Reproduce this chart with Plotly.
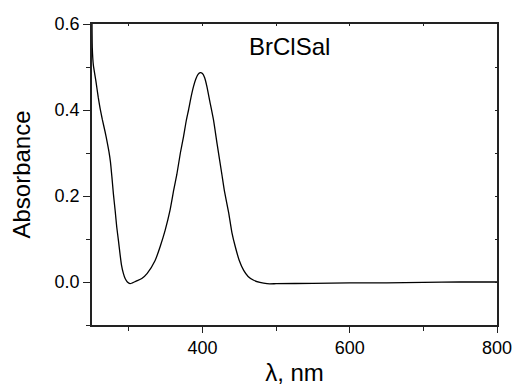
import plotly.graph_objects as go

# Spectrum
wavelength_nm = [250, 250.4, 251.8, 255.4, 258.6, 261, 264, 267.7, 271, 273, 275, 277, 279,
                 281.5, 283.6, 286, 288, 290, 292.6, 295, 298, 301.7, 305, 310, 317.6,
                 325, 335.7, 342.5, 349.3, 356, 361, 365.2, 370, 374.3, 378, 381.1, 384.5,
                 387.9, 391, 394, 397, 400, 403, 406, 410, 415, 420, 426.4, 430, 435.5,
                 440, 444.6, 450, 456, 462, 469.6, 478, 487.7, 500, 550, 600, 650, 700,
                 750, 800]
absorbance = [0.60, 0.544, 0.505, 0.466, 0.428, 0.404, 0.378, 0.35, 0.322, 0.303, 0.28,
              0.245, 0.206, 0.165, 0.128, 0.095, 0.066, 0.04, 0.02, 0.008, 0.0, -0.004,
              -0.002, 0.002, 0.008, 0.02, 0.05, 0.082, 0.12, 0.167, 0.214, 0.25, 0.30,
              0.338, 0.375, 0.40, 0.43, 0.455, 0.472, 0.483, 0.487, 0.485, 0.475, 0.455,
              0.42, 0.377, 0.32, 0.25, 0.21, 0.162, 0.115, 0.082, 0.05, 0.027, 0.013,
              0.004, -0.001, -0.004, -0.004, -0.003, -0.002, -0.002, -0.001, 0.0, 0.0, 0.0]

x_major_ticks = [400, 600, 800]
x_minor_ticks = [300, 500, 700]
y_major_ticks = [0.0, 0.2, 0.4, 0.6]
y_minor_ticks = [-0.1, 0.1, 0.3, 0.5]
y_tick_labels = ["0.0", "0.2", "0.4", "0.6"]

sample_label = "BrClSal"
x_title = "λ, nm"
y_title = "Absorbance"

FONT = "Liberation Sans, Arial, sans-serif"
AXC = "#222222"

fig = go.Figure()
fig.add_trace(go.Scatter(x=wavelength_nm, y=absorbance, mode="lines",
                         line=dict(color="black", width=1.3, shape="spline", smoothing=0.5),
                         showlegend=False, hoverinfo="skip"))
# dummy trace to host the mirrored top/right axes
fig.add_trace(go.Scatter(x=[wavelength_nm[0]], y=[absorbance[-1]], xaxis="x2", yaxis="y2",
                         mode="markers", marker=dict(opacity=0), showlegend=False,
                         hoverinfo="skip"))

fig.update_layout(
    width=515, height=392,
    margin=dict(l=92, r=18, t=24, b=67, autoexpand=False),
    paper_bgcolor="white", plot_bgcolor="white",
    font=dict(family=FONT, color="black", size=18),
    xaxis=dict(range=[250, 800], tickvals=x_major_ticks, ticks="outside", ticklen=6,
               tickwidth=1.3, tickcolor=AXC, showline=True, linecolor=AXC, linewidth=1.6,
               showgrid=False, zeroline=False, automargin=False,
               tickfont=dict(size=18, family=FONT),
               minor=dict(tickvals=x_minor_ticks, ticks="outside", ticklen=4,
                          tickwidth=1.3, tickcolor=AXC, showgrid=False),
               title=dict(text=x_title, font=dict(size=24, family=FONT), standoff=7)),
    yaxis=dict(range=[-0.1, 0.6], tickvals=y_major_ticks, ticktext=y_tick_labels,
               ticks="outside", ticklen=7, tickwidth=1.3, tickcolor=AXC, showline=True,
               linecolor=AXC, linewidth=1.6, showgrid=False, zeroline=False, automargin=False,
               tickfont=dict(size=18, family=FONT),
               minor=dict(tickvals=y_minor_ticks, ticks="outside", ticklen=4,
                          tickwidth=1.3, tickcolor=AXC, showgrid=False),
               title=dict(text=y_title, font=dict(size=24, family=FONT), standoff=17)),
    xaxis2=dict(range=[250, 800], overlaying="x", side="top", tickvals=x_major_ticks + x_minor_ticks,
                ticks="inside", ticklen=2, tickcolor=AXC, showticklabels=False, automargin=False,
                showline=True, linecolor=AXC, linewidth=1.6, showgrid=False, zeroline=False),
    yaxis2=dict(range=[-0.1, 0.6], overlaying="y", side="right", automargin=False,
                tickvals=y_major_ticks + y_minor_ticks, ticks="inside", ticklen=2,
                tickcolor=AXC, showticklabels=False, showline=True, linecolor=AXC,
                linewidth=1.6, showgrid=False, zeroline=False),
    annotations=[dict(x=518, y=0.547, xref="x", yref="y", text=sample_label,
                      showarrow=False, font=dict(size=24, family=FONT, color="black"))],
)

fig.write_html("out.html")
